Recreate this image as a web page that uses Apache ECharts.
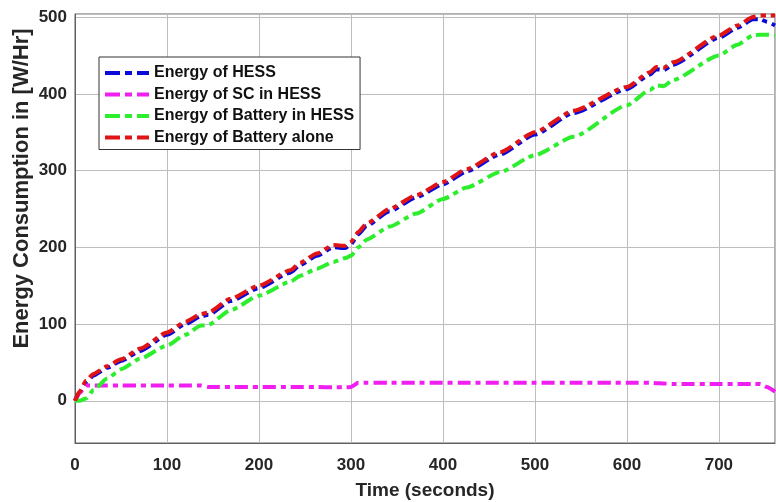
<!DOCTYPE html>
<html>
<head>
<meta charset="utf-8">
<script src="https://cdn.jsdelivr.net/npm/echarts@6/dist/echarts.min.js"></script>
<style>
html,body{margin:0;padding:0;background:#fff;}
#chart{width:776px;height:502px;}
</style>
</head>
<body>
<div id="chart"></div>
<script>
// Time (seconds)
var timeSec = [0, 5, 12, 20, 35, 50, 71, 100, 120, 137, 145, 169, 200, 234, 245, 263, 281, 294, 300, 308, 317, 342, 371, 400, 426, 462, 500, 542, 600, 625, 632, 640, 650, 700, 720, 737, 745, 752, 761];
// Energy of HESS
var energyHESS = [0, 11, 24, 33, 43, 52, 65, 86, 100, 110, 112, 130, 147, 167, 177, 189, 200, 199, 204, 217, 228, 247, 265, 282, 299, 321, 347, 375, 406, 425, 432, 431, 438, 473, 486, 497, 497, 494, 489];
// Energy of SC in HESS
var energySC = [0, 10, 20, 20, 20, 20, 20, 20, 20, 20, 18, 18, 18, 18, 18, 18, 17.5, 17.5, 18, 23.5, 23.5, 23.5, 23.5, 23.5, 23.5, 23.5, 23.5, 23.5, 23.5, 23.5, 23, 22.5, 22, 22, 22, 22, 22, 18, 12];
// Energy of Battery in HESS
var energyBattHESS = [0, 0, 3, 14, 29, 41, 55, 72, 86, 98, 99, 118, 137, 155, 163, 172, 181, 186, 189, 200, 210, 227, 244, 263, 278, 298, 320, 344, 385, 405, 411, 410, 418, 450, 464, 476, 477, 477, 476];
// Energy of Battery alone
var energyBattAlone = [0, 12, 26, 35, 45, 54, 68, 89, 103, 113, 115, 133, 150, 170, 180, 192, 203, 202, 207, 220, 231, 250, 268, 285, 302, 324, 350, 378, 409, 428, 435, 434, 441, 476, 489, 500, 502, 502, 502];

var seriesNames = ['Energy of HESS', 'Energy of SC in HESS', 'Energy of Battery in HESS', 'Energy of Battery alone'];
var seriesValues = [energyHESS, energySC, energyBattHESS, energyBattAlone];
var seriesColors = ['#0a0ad8', '#f01ef0', '#2cee2c', '#e01414'];

function pairs(vals) {
  return timeSec.map(function (t, i) { return [t, vals[i]]; });
}

var FONT = 'Liberation Sans, Arial, sans-serif';
var chart = echarts.init(document.getElementById('chart'));
chart.setOption({
  animation: false,
  backgroundColor: '#ffffff',
  grid: { left: 75, right: 1, top: 14, bottom: 59, containLabel: false, outerBoundsMode: 'none', show: true, borderColor: '#606060', borderWidth: 1, backgroundColor: 'transparent' },
  legend: {
    orient: 'vertical',
    left: 99, top: 57,
    padding: [8, 6, 4, 4],
    itemGap: 5.5,
    itemWidth: 44, itemHeight: 14,
    backgroundColor: '#ffffff',
    borderColor: '#333333', borderWidth: 1,
    itemStyle: { opacity: 0 },
    lineStyle: { width: 4, type: [15, 5, 7, 5], cap: 'butt' },
    textStyle: { fontFamily: FONT, fontWeight: 'bold', fontSize: 16, color: '#111111', lineHeight: 16 },
    data: seriesNames
  },
  xAxis: {
    type: 'value', min: 0, max: 761, interval: 100,
    name: 'Time (seconds)', nameLocation: 'middle', nameGap: 38,
    nameTextStyle: { fontFamily: FONT, fontWeight: 'bold', fontSize: 19, color: '#262626' },
    axisLine: { show: true, onZero: false, lineStyle: { color: '#606060' } },
    axisTick: { show: false },
    axisLabel: { fontFamily: FONT, fontWeight: 'bold', fontSize: 17, color: '#262626', margin: 14, showMaxLabel: false },
    splitLine: { show: true, lineStyle: { color: '#bdbdbd', width: 1 } }
  },
  yAxis: {
    type: 'value', min: -55, max: 504,
    name: 'Energy Consumption in [W/Hr]', nameLocation: 'middle', nameGap: 42, nameMoveOverlap: false,
    nameTextStyle: { fontFamily: FONT, fontWeight: 'bold', fontSize: 22, color: '#262626', padding: [0, 0, 0, 80] },
    axisLine: { show: true, lineStyle: { color: '#606060' } },
    axisTick: { show: false },
    axisLabel: { fontFamily: FONT, fontWeight: 'bold', fontSize: 17, color: '#262626', margin: 8, showMinLabel: false, showMaxLabel: false },
    splitLine: { show: true, lineStyle: { color: '#bdbdbd', width: 1 } }
  },
  series: seriesNames.map(function (name, i) {
    return {
      name: name,
      type: 'line',
      data: pairs(seriesValues[i]),
      showSymbol: false,
      symbol: 'none',
      smooth: 0.2,
      smoothMonotone: 'x',
      color: seriesColors[i],
      lineStyle: { color: seriesColors[i], width: 4, type: [13, 5, 5, 5], cap: 'butt' },
      z: 2 + i
    };
  })
});
</script>
</body>
</html>
